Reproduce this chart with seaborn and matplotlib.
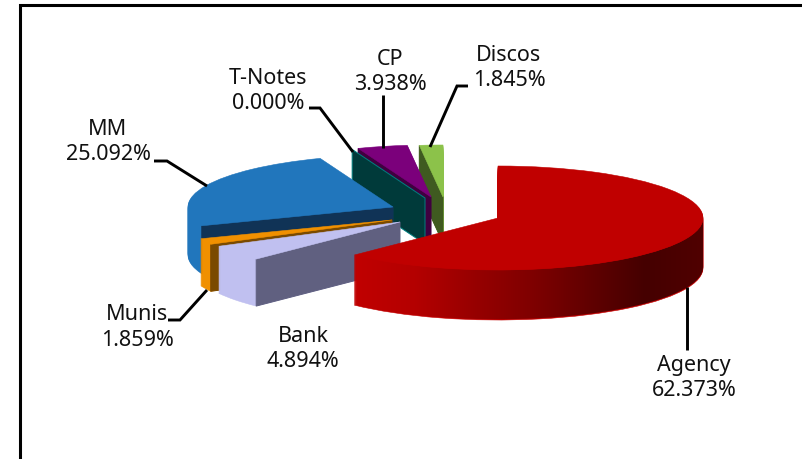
import numpy as np
import matplotlib
matplotlib.use("Agg")
import matplotlib.pyplot as plt
import seaborn as sns

# ---- data ----
slice_names = ["Agency", "Bank", "Munis", "MM", "T-Notes", "CP", "Discos"]
slice_values = [62.373, 4.894, 1.859, 25.092, 0.000, 3.938, 1.845]

# ---- style / layout ----
top_colors = ["#C00000", "#C0C0F0", "#F09000", "#2176BC", "#003A3A", "#7B007B", "#8CC24A"]
cut_colors = [None, "#606080", "#7A4A00", "#103356", "#003A3A", "#3F003F", "#3F5A20"]
centers = [(498, 218), (400, 222), (392, 220), (393, 207), (425, 198), (431, 197), (443, 197)]
depths = [50, 47, 47, 48, 46, 46, 46]
draw_order = ["Discos", "CP", "T-Notes", "MM", "Munis", "Bank", "Agency"]
label_pos = {"Agency": (694, 378.5), "Bank": (303, 349), "Munis": (137.5, 327.5), "MM": (108, 142),
             "T-Notes": (268, 91), "CP": (390.5, 72), "Discos": (509, 68.5)}
leaders = [[(154, 161), (167, 161), (207, 186)],
           [(309, 108), (320, 108), (353, 152)],
           [(383, 95), (383, 148)],
           [(468, 86), (457, 86), (430, 147)],
           [(687, 287), (687, 350)],
           [(168, 320), (180, 320), (207, 290)]]
W, H = 803, 459
RX, RY = 205.0, 52.0
K = RX / RY

sns.set_theme(style="white")
plt.rcParams["font.family"] = ["Noto Sans", "DejaVu Sans"]
fig = plt.figure(figsize=(W / 100, H / 100), dpi=100)
ax = fig.add_axes([0, 0, 1, 1])


def Y(py):
    return (H - py) * K


def outer(cx, cy, theta):
    t = np.radians(theta)
    return cx + RX * np.sin(t), cy - RY * np.cos(t)


def wedge(value, start, color, cx, cy, z):
    w, _ = ax.pie([value / 100.0], normalize=False, startangle=90 - start, counterclock=False,
                  radius=RX, center=(cx, Y(cy)), colors=[color],
                  wedgeprops=dict(edgecolor=color, linewidth=0.4))
    w[0].set_zorder(z)
    return w[0]


starts = np.concatenate([[0.0], np.cumsum(slice_values)[:-1]]) * 3.6
wall_cmap = sns.blend_palette(["#C00000", "#B40000", "#980000", "#800000", "#620000",
                               "#450000", "#500000"], as_cmap=True)

for rank, name in enumerate(draw_order):
    i = slice_names.index(name)
    v, s = slice_values[i], starts[i]
    cx, cy = centers[i]
    d = depths[i]
    base = 10 * (rank + 1)
    if v > 0:
        for off in range(d, 0, -1):
            wedge(v, s, top_colors[i], cx, cy + off, base)
    if name == "Agency":
        angs = np.linspace(90, s + v * 3.6, 200)
        ox, oy = outer(cx, cy, angs)
        xs = np.concatenate([ox, ox[::-1]])
        ys = np.concatenate([oy, (oy + d - 0.8)[::-1]])
        poly = ax.fill(xs, Y(ys), color="none", lw=0, zorder=base + 1)[0]
        im = ax.imshow(np.linspace(0, 1, 256)[None, :], cmap=wall_cmap, aspect="auto",
                       extent=(cx - 141, cx + RX, Y(cy + 110), Y(cy)), zorder=base + 1)
        im.set_clip_path(poly)
    if cut_colors[i] is not None:
        ox, oy = outer(cx, cy, s)
        edge = "#008080" if v == 0 else cut_colors[i]
        ax.fill([cx, ox, ox, cx], [Y(cy), Y(oy), Y(oy + d), Y(cy + d)], facecolor=cut_colors[i],
                edgecolor=edge, linewidth=0.7, zorder=base + 2)
    if v > 0:
        wedge(v, s, top_colors[i], cx, cy, base + 3)

# labels
for name, val in zip(slice_names, slice_values):
    x, y = label_pos[name]
    ax.text(x, Y(y), f"{name}\n{val:.3f}%", ha="center", va="center", fontsize=15.5,
            color="#111111", linespacing=1.25, zorder=200)

# leader lines
for pts in leaders:
    p = np.array(pts, dtype=float)
    ax.plot(p[:, 0], Y(p[:, 1]), color="black", lw=2.1, solid_capstyle="butt",
            solid_joinstyle="miter", zorder=150)

# chart frame (runs off the canvas on the right and bottom)
ax.plot([20, 20, W + 5], [Y(H + 5), Y(5), Y(5)], color="black", lw=2.2,
        solid_joinstyle="miter", zorder=160)

ax.set_aspect("auto")
ax.set_xlim(0, W)
ax.set_ylim(0, Y(0))
ax.axis("off")
fig.savefig("out.png", dpi=100, facecolor="white")
